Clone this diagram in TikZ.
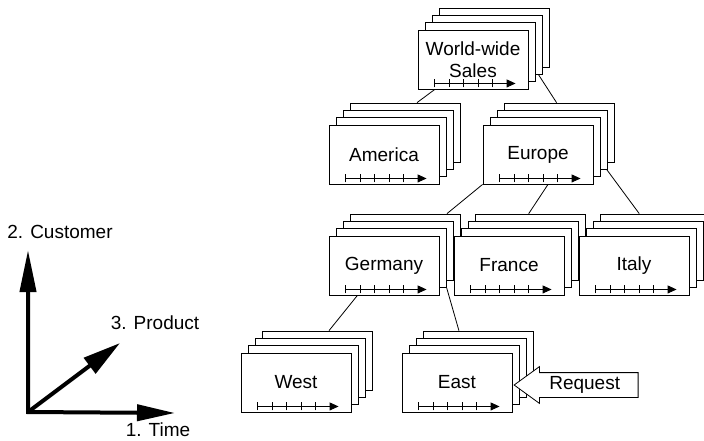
\documentclass[tikz,border=0pt]{standalone}
\usepackage{fontspec}
\setmainfont{Liberation Sans}
\usepackage{tikz}
\usetikzlibrary{
    arrows.meta,
    shapes.arrows,
    calc,
    backgrounds
}
\tikzset{
    % Base style for every sheet of a cube stack
    sheet/.style={
        draw=black,
        line width=0.9pt,
        fill=white,
        minimum width=110pt,
        minimum height=59pt,
        inner sep=0pt,
        align=center,
        font=\fontsize{19}{22}\selectfont,
    },
    % Small time axis at the foot of a front sheet
    timeline/.style={
        -{Triangle[length=9pt, width=8pt]},
        line width=0.9pt,
    },
    tick/.style={line width=0.9pt},
    % Thin tree lines between the stacks
    link/.style={line width=0.8pt},
    % Heavy arrows of the dimension key
    axis/.style={
        line width=4pt,
        line join=miter,
    },
    axis label/.style={
        font=\fontsize{19}{22}\selectfont,
        inner sep=1pt,
    },
    % Block arrow for the incoming request
    request arrow/.style={
        single arrow,
        shape border rotate=180,
        draw=black,
        line width=0.8pt,
        fill=white,
        minimum height=124pt,
        single arrow head extend=6pt,
        single arrow tip angle=72,
        text height=13pt,
        text depth=4pt,
        inner ysep=3.5pt,
        font=\fontsize{19}{22}\selectfont,
    },
}

% A stack of sheets: back layers first, the named front sheet last
\newcommand{\salesstack}[3]{%
    \foreach \k in {3,2,1}{
        \node (#1-\k) [sheet] at ($#2+(\k*7.3,-\k*7.3)$) {};
    }
    \node (#1) [sheet] at #2 {#3};
    \draw [timeline] ($(#1.south west)+(17,-6)$) -- ($(#1.south west)+(98,-6)$);
    \foreach \t in {17,31.5,46,60.5,75}{
        \draw [tick] ($(#1.south west)+(\t,-2)$) -- ++(0,-8);
    }
}

\begin{document}
\begin{tikzpicture}[x=1pt, y=-1pt]
    \useasboundingbox (0,0) rectangle (704,440);

    % Cube hierarchy
    \salesstack{world}{(473,59.5)}{World-wide\\Sales}
    \salesstack{america}{(384,154.5)}{America}
    \salesstack{europe}{(538,154.5)}{Europe}
    \salesstack{germany}{(384,265.5)}{Germany}
    \salesstack{france}{(509,265.5)}{France}
    \salesstack{italy}{(634,265.5)}{Italy}
    \salesstack{west}{(296,382.5)}{West}
    \salesstack{east}{(457,382.5)}{East}

    \begin{scope}[on background layer]
        \draw [link] ($(world.south west)!0.155!(world.south east)$) -- ($(america-3.north west)!0.6!(america-3.north east)$);
        \draw [link] ($(world-2.south west)!0.96!(world-2.south east)$) -- ($(europe-3.north west)!0.47!(europe-3.north east)$);
        \draw [link] (europe.south west) -- ($(germany-3.north west)!0.87!(germany-3.north east)$);
        \draw [link] ($(europe.south west)!0.59!(europe.south east)$) -- ($(france-3.north west)!0.48!(france-3.north east)$);
        \draw [link] ($(europe-2.south west)!0.99!(europe-2.south east)$) -- ($(italy-3.north west)!0.35!(italy-3.north east)$);
        \draw [link] ($(germany.south west)!0.26!(germany.south east)$) -- ($(west-3.north west)!0.6!(west-3.north east)$);
        \draw [link] (germany-1.south east) -- ($(east-3.north west)!0.32!(east-3.north east)$);
    \end{scope}

    % Request entering the East cube
    \node (request) [request arrow, anchor=tip] at ($(east.east)+(1,2.5)$) {Request};

    % Dimension key
    \coordinate (origin) at (28,412);
    \coordinate (customer end) at (28,250);
    \coordinate (time end) at (175,413);
    \coordinate (product end) at (120,343);
    \draw [axis, {Triangle[length=42pt, width=16pt]}-{Triangle[length=38pt, width=16pt]}] (customer end) -- (origin) -- (time end);
    \draw [axis, -{Triangle[length=38pt, width=19pt]}] (origin) -- (product end);
    \node (customer) [axis label] at (60,232) {2. Customer};
    \node (product) [axis label] at (155,323) {3. Product};
    \node (time) [axis label] at (158,429.5) {1. Time};
\end{tikzpicture}
\end{document}
